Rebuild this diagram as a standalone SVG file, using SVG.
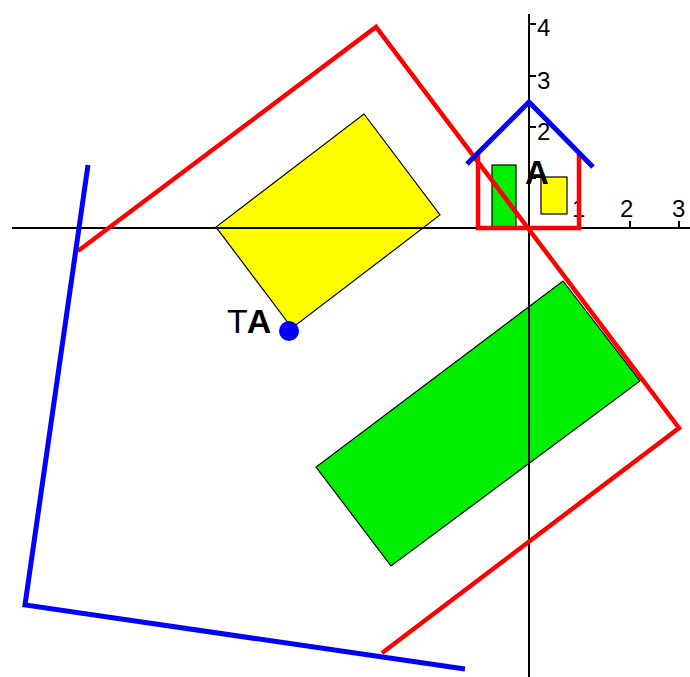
<svg xmlns="http://www.w3.org/2000/svg" width="690" height="677" viewBox="0 0 690 677">
<style>
.ax{stroke:#000;stroke-width:2;fill:none}
.lbl{font-family:"Liberation Sans",Arial,sans-serif;font-size:24px;fill:#000}
.red{stroke:#ff0000;stroke-width:4.5;fill:none;stroke-linejoin:miter}
.blue{stroke:#0000ff;stroke-width:5;fill:none}
.yel{fill:#ffff00;stroke:#000;stroke-width:1.2}
.grn{fill:#00ee00;stroke:#000;stroke-width:1.2}
</style>
<rect width="690" height="677" fill="#fff"/>
<g id="big-yellow"><polygon class="yel" points="364,114 440,215 292,328 216,227"/></g>
<g id="big-green"><polygon class="grn" points="563,281 640,381 391,566 316,467"/></g>
<g id="small-green"><rect class="grn" x="492" y="165" width="24" height="62"/></g>
<g id="small-yellow"><rect class="yel" x="541" y="177" width="26" height="37"/></g>
<g id="axes">
<line class="ax" x1="12" y1="228" x2="690" y2="228"/>
<line class="ax" x1="529" y1="14" x2="529" y2="677"/>
<path class="ax" d="M580,221V228M630,221V228M679,221V228M529,24H536M529,76H536M529,127H536M529,178H536"/>
<text class="lbl" x="537" y="36">4</text>
<text class="lbl" x="537" y="89">3</text>
<text class="lbl" x="537" y="140">2</text>
<text class="lbl" x="572" y="217">1</text>
<text class="lbl" x="620" y="217">2</text>
<text class="lbl" x="672" y="217">3</text>
</g>
<g id="big-walls"><polyline class="red" points="78,251 376,27 679,428 382,653"/></g>
<g id="big-roof"><polyline class="blue" points="88,165 25,605 465,669"/></g>
<g id="small-walls"><polyline class="red" points="478,153 478,228 579,228 579,153"/></g>
<g id="small-roof"><polyline class="blue" points="467,164 529,102 593,167"/></g>
<g id="label-A"><text x="525" y="184" font-family="Liberation Sans,Arial,sans-serif" font-size="33" font-weight="bold">A</text></g>
<g id="label-TA"><text x="227" y="333" font-family="Liberation Sans,Arial,sans-serif" font-size="34">T<tspan font-weight="bold" dx="-1">A</tspan></text>
<circle cx="289" cy="331" r="10" fill="#0000ff"/></g>
</svg>
